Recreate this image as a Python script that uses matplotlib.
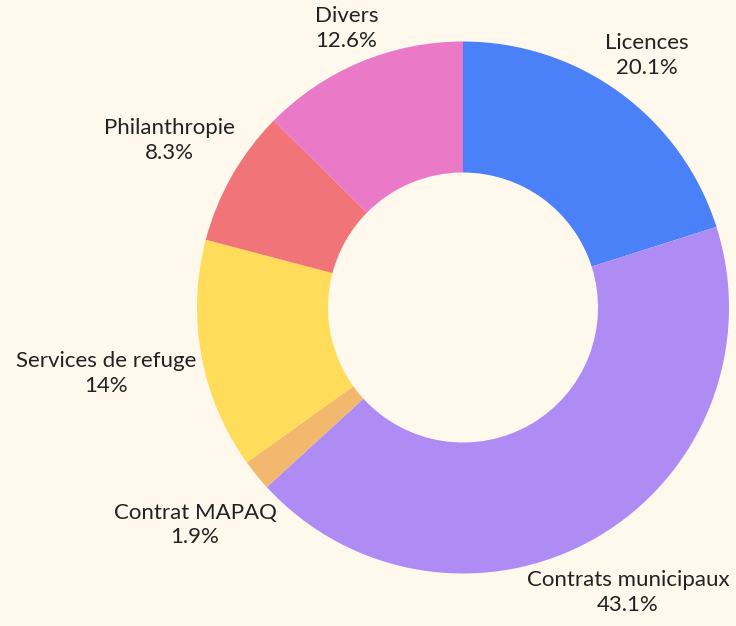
import numpy as np
import matplotlib
matplotlib.use("Agg")
import matplotlib.pyplot as plt

categories = ["Licences", "Contrats municipaux", "Contrat MAPAQ",
              "Services de refuge", "Philanthropie", "Divers"]
values = [20.1, 43.1, 1.9, 14, 8.3, 12.6]
pct_labels = ["20.1%", "43.1%", "1.9%", "14%", "8.3%", "12.6%"]
colors = ["#4A80F8", "#AF8CF4", "#F2B86E", "#FFDC5A", "#F07478", "#EA7AC8"]

BG = "#FEF8ED"
W, H = 736, 626
fig = plt.figure(figsize=(W / 100, H / 100), dpi=100, facecolor=BG)
ax = fig.add_axes([0, 0, 1, 1])
ax.set_facecolor(BG)

cx, cy = 463, H - 307.5
R_out = 266
R_in = 135

wedges, _ = ax.pie(values, colors=colors, startangle=90, counterclock=False,
                   radius=R_out, center=(cx, cy),
                   wedgeprops=dict(width=R_out - R_in, linewidth=0),
                   frame=True)
ax.set_xlim(0, W)
ax.set_ylim(0, H)
ax.set_aspect("equal")
ax.axis("off")

fig.canvas.draw()
renderer = fig.canvas.get_renderer()

R_lab = 270
total = sum(values)
cum = 0
for cat, pl, v in zip(categories, pct_labels, values):
    mid = cum + v / 2
    cum += v
    ang = np.deg2rad(90 - 360 * mid / total)
    u = np.array([np.cos(ang), np.sin(ang)])
    t = ax.text(cx, cy, f"{cat}\n{pl}", ha="center", va="center",
                multialignment="center", fontsize=16, family="Lato",
                color="#222222", linespacing=1.3)
    bb = t.get_window_extent(renderer)
    w, h = bb.width / 2, bb.height / 2

    def nearest(tt):
        c = tt * u
        px = min(max(0, c[0] - w), c[0] + w)
        py = min(max(0, c[1] - h), c[1] + h)
        return np.hypot(px, py)

    lo, hi = 0.0, 1000.0
    for _ in range(60):
        m = (lo + hi) / 2
        if nearest(m) < R_lab:
            lo = m
        else:
            hi = m
    pos = hi * u
    t.set_position((cx + pos[0], cy + pos[1]))

fig.savefig("out.png", dpi=100, facecolor=BG)
